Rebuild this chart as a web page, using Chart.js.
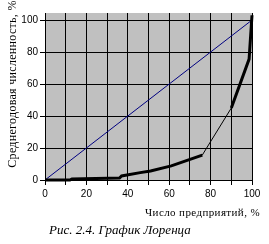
<!DOCTYPE html>
<html>
<head>
<meta charset="utf-8">
<script src="https://cdn.jsdelivr.net/npm/chart.js"></script>
<style>
  body { margin: 0; background: #fff; }
</style>
</head>
<body>
<canvas id="lorenz" width="269" height="244"></canvas>
<script>
// Lorenz curve data (percent of enterprises vs percent of average staff)
const firmsPct = [0, 12, 13, 36, 37, 46, 51, 61, 76, 90, 98.6, 100];
const staffPct = [0, 0, 0.6, 1.2, 2.5, 4.6, 5.6, 8.8, 15.6, 45, 75.6, 103];
const equalityX = [0, 100];
const equalityY = [0, 100];
const xTicks = [0, 10, 20, 30, 40, 50, 60, 70, 80, 90, 100];
const xLabels = [0, 20, 40, 60, 80, 100];
const yTicks = [0, 20, 40, 60, 80, 100];

const xTitle = 'Число предприятий, %';
const yTitle = 'Среднегодовая численность, %';
const caption = 'Рис. 2.4. График Лоренца';

const thinFrom = [8]; // segment 76 -> 90 is drawn thin

const serif = '"Liberation Serif", "Times New Roman", serif';

const plotBg = {
    id: 'plotBg',
    beforeDraw(chart) {
        const { ctx, chartArea: a } = chart;
        ctx.save();
        ctx.fillStyle = '#c0c0c0';
        ctx.fillRect(a.left, a.top, a.right - a.left, a.bottom - a.top);
        ctx.restore();
    }
};

const texts = {
    id: 'texts',
    afterDraw(chart) {
        const ctx = chart.ctx;
        ctx.save();
        ctx.fillStyle = '#000';
        ctx.textBaseline = 'middle';

        ctx.font = '11px ' + serif;
        ctx.letterSpacing = '0.4px';
        ctx.textAlign = 'right';
        ctx.fillText(xTitle, 260, 213);

        ctx.letterSpacing = '0px';
        ctx.font = 'italic 13px ' + serif;
        ctx.textAlign = 'left';
        ctx.fillText(caption, 49, 231);

        ctx.translate(13, 84);
        ctx.rotate(-Math.PI / 2);
        ctx.font = '12px ' + serif;
        ctx.letterSpacing = '0.3px';
        ctx.textAlign = 'center';
        ctx.fillText(yTitle, 0, 0);
        ctx.restore();
    }
};

new Chart(document.getElementById('lorenz'), {
    type: 'scatter',
    data: {
        datasets: [
            {
                data: firmsPct.map((x, i) => ({ x: x, y: staffPct[i] })),
                showLine: true,
                borderColor: '#000',
                borderWidth: 3,
                pointRadius: 0,
                clip: false,
                segment: {
                    borderWidth: c => thinFrom.includes(c.p0DataIndex) ? 1 : 3
                }
            },
            {
                data: equalityX.map((x, i) => ({ x: x, y: equalityY[i] })),
                showLine: true,
                borderColor: '#000080',
                borderWidth: 1,
                pointRadius: 0
            }
        ]
    },
    options: {
        responsive: false,
        animation: false,
        layout: { padding: { top: 13, right: 17, left: 0, bottom: 0 } },
        plugins: {
            legend: { display: false },
            tooltip: { enabled: false }
        },
        scales: {
            x: {
                type: 'linear',
                min: 0,
                max: 100,
                afterBuildTicks: s => { s.ticks = xTicks.map(v => ({ value: v })); },
                afterFit: s => { s.height = 64; },
                grid: { color: '#000', lineWidth: 1, tickLength: 5 },
                border: { color: '#000', width: 1 },
                ticks: {
                    color: '#000',
                    padding: 3,
                    maxRotation: 0,
                    font: { family: '"Liberation Sans", Arial, sans-serif', size: 10 },
                    callback: v => xLabels.includes(v) ? String(v) : ''
                }
            },
            y: {
                type: 'linear',
                min: 0,
                max: 104.4,
                afterBuildTicks: s => { s.ticks = yTicks.map(v => ({ value: v })); },
                afterFit: s => { s.width = 45; },
                grid: { color: '#000', lineWidth: 1, tickLength: 5 },
                border: { color: '#000', width: 1 },
                ticks: {
                    color: '#000',
                    padding: 2,
                    font: { family: '"Liberation Sans", Arial, sans-serif', size: 10 }
                }
            }
        }
    },
    plugins: [plotBg, texts]
});
</script>
</body>
</html>
